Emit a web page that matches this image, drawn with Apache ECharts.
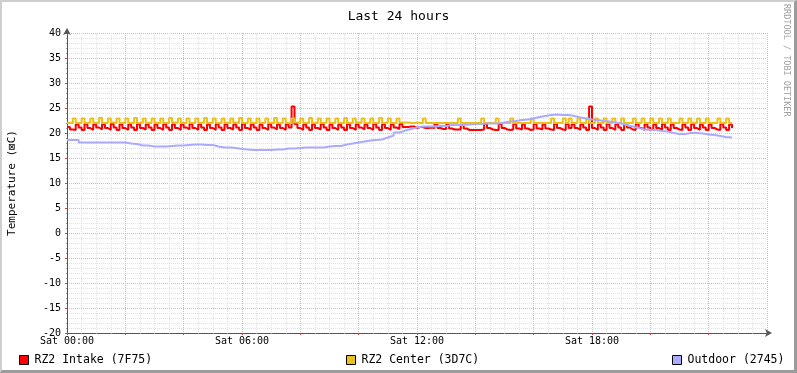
<!DOCTYPE html>
<html>
<head>
<meta charset="utf-8">
<script src="https://cdn.jsdelivr.net/npm/echarts@6/dist/echarts.min.js"></script>
<style>
html,body{margin:0;padding:0;background:#fff;}
#wrap{position:relative;width:797px;height:373px;}
#chart{position:absolute;left:0;top:0;width:797px;height:373px;}
#frame{position:absolute;left:0;top:0;width:797px;height:373px;box-sizing:border-box;
 border-top:2px solid #cfcfcf;border-left:2px solid #cfcfcf;border-right:3px solid #9c9c9c;border-bottom:3px solid #9c9c9c;pointer-events:none;}
</style>
</head>
<body>
<div id="wrap"><div id="chart"></div><div id="frame"></div></div>
<script>
// ---- data ----
const TITLE = 'Last 24 hours';
const Y_NAME = 'Temperature (\u22A0C)';
const WATERMARK = 'RRDTOOL / TOBI OETIKER';
const SERIES_NAMES = ['RZ2 Intake (7F75)', 'RZ2 Center (3D7C)', 'Outdoor (2745)'];
const X_TICK_MINUTES = [0, 360, 720, 1080];
const X_TICK_LABELS = ['Sat 00:00', 'Sat 06:00', 'Sat 12:00', 'Sat 18:00'];
const STEP_FAST = 6;   // minutes between intake/center samples
const STEP_SLOW = 12;  // minutes between outdoor samples

const intake = [
21.2,20.7,20.6,
21.7,21.1,20.6, 21.8,21.0,20.6, 21.7,21.1,20.7, 21.7,21.0,20.6, 21.8,21.1,20.6,
21.7,21.0,20.6, 21.7,21.1,20.6, 21.8,21.0,20.7, 21.7,21.1,20.6, 21.7,21.0,20.6,
21.8,21.1,20.6, 21.7,21.0,20.6, 21.7,21.1,20.7, 21.8,21.0,20.6, 21.7,21.1,20.6,
21.7,21.0,20.6, 21.8,21.1,20.6, 21.7,21.0,20.7, 21.7,21.1,20.6, 21.8,21.0,20.6,
21.7,21.1,20.6, 21.7,21.0,20.6, 21.8,21.1,20.7, 21.7,21.0,20.6, 21.7,21.1,25.3,
21.8,21.0,20.6, 21.7,21.1,20.6, 21.7,21.0,20.7, 21.8,21.1,20.6, 21.7,21.0,20.6,
21.7,21.1,20.6, 21.8,21.0,20.6, 21.7,21.1,20.7, 21.7,21.0,20.6, 21.8,21.1,20.6,
21.7,21.0,20.6, 21.7,21.1,20.8,
21.8,21.2,21.2,21.3,21.3,21.0,21.2,21.2,21.0,21.0,
21.1,21.0,21.8,21.0,20.8,20.8,21.7,20.9,20.7,20.7,
20.7,21.7,20.9,20.6,20.6,20.6,20.6,20.6,20.7,21.8,
21.0,20.7,20.6,20.6,21.8,21.0,20.7,20.6,20.7,21.8,
20.9,20.7,21.7,20.9,20.6,20.7,21.8,20.9,20.7,21.7,
20.9,20.7,20.6,21.8,21.0,20.7,20.6,21.8,
21.0,21.7,21.0,20.6,21.7,21.1,20.6,25.3,21.0,20.6,
21.7,21.1,20.6,21.8,21.0,20.6,21.7,21.1,20.6,21.7,
21.1,20.7,20.6,21.8,21.0,20.6,21.7,21.1,20.6,21.7,
21.0,20.6,21.8,21.1,20.6,21.7,21.0,20.7,20.6,21.7,
21.1,20.6,21.8,21.0,20.6,21.7,21.1,20.6,21.7,21.0,
20.7,20.6,21.8,21.1,20.6,21.7,21.0
];

const center = [
22.0,22.0,22.9, 22.0,22.0,22.9, 22.0,22.1,22.9, 22.0,22.0,23.0, 22.0,22.0,22.9,
22.1,22.0,22.9, 22.0,22.0,22.9, 22.0,22.0,23.0, 22.0,22.1,22.9, 22.0,22.0,22.9,
22.0,22.0,22.9, 22.0,22.0,23.0, 22.1,22.0,22.9, 22.0,22.0,22.9, 22.0,22.0,22.9,
22.0,22.1,23.0, 22.0,22.0,22.9, 22.0,22.0,22.9, 22.0,22.0,22.9, 22.1,22.0,23.0,
22.0,22.0,22.9, 22.0,22.0,22.9, 22.0,22.1,22.9, 22.0,22.0,23.0, 22.0,22.0,22.9,
22.0,22.0,22.9, 22.1,22.0,22.9, 22.0,22.0,23.0, 22.0,22.0,22.9, 22.0,22.1,22.9,
22.0,22.0,22.9, 22.0,22.0,23.0, 22.0,22.0,22.9, 22.1,22.0,22.9, 22.0,22.0,22.9,
22.0,22.0,23.0, 22.0,22.1,22.9, 22.0,22.0,22.9,
22.1,22.1,22.1,22.0,22.0,22.1,22.0,22.0,22.9,22.0,
22.0,22.0,22.0,22.0,22.0,22.0,22.0,22.0,22.0,22.0,
22.9,22.0,22.0,22.0,22.0,22.0,22.0,22.0,22.9,22.0,
22.0,22.0,22.0,22.9,22.0,22.0,22.0,22.0,22.9,22.0,
22.0,22.0,22.0,22.0,22.0,22.9,22.0,22.0,22.0,22.0,
22.0,22.0,22.9,22.0,22.0,22.0,22.9,22.0,
22.9,22.0,22.0,22.9,22.0,22.0,22.9,22.0,22.0,22.9,
22.0,22.0,22.9,22.0,22.0,22.9,22.0,22.0,22.9,22.0,
22.0,22.0,22.9,22.0,22.0,22.9,22.0,22.0,22.9,22.0,
22.0,22.9,22.0,22.0,22.9,22.0,22.0,22.0,22.9,22.0,
22.0,22.9,22.0,22.0,22.9,22.0,22.0,22.9,22.0,22.0,
22.0,22.9,22.0,22.0,22.9,22.0,22.0
];

const outdoor = [
18.6,18.6,18.1,18.1,18.1,18.1,18.1,18.1,18.1,18.1,
17.9,17.8,17.5,17.5,17.3,17.3,17.3,17.4,17.5,17.5,
17.6,17.7,17.7,17.6,17.6,17.3,17.1,17.1,17.0,16.8,
16.7,16.6,16.6,16.6,16.6,16.7,16.7,16.9,16.9,17.0,
17.1,17.1,17.1,17.1,17.3,17.4,17.4,17.7,17.9,18.1,
18.3,18.5,18.6,18.7,19.1,19.5,20.1,20.5,20.8,21.1,
21.3,21.3,21.3,21.4,21.4,21.6,21.6,21.6,21.7,21.8,
21.8,21.9,21.9,21.9,22.1,22.3,22.4,22.6,22.7,22.9,
23.2,23.4,23.6,23.7,23.6,23.6,23.4,23.1,22.9,22.7,
22.6,22.4,22.3,22.1,21.9,21.6,21.3,21.0,20.7,20.6,
20.6,20.4,20.3,20.0,19.8,19.8,20.0,20.0,19.9,19.7,
19.6,19.4,19.2,19.1,19.1
];

// ---- chart ----
const MONO = '"DejaVu Sans Mono", monospace';
const toPairs = (arr, step) => arr.map((v, i) => [i * step, v]);

const chart = echarts.init(document.getElementById('chart'), null, {renderer: 'canvas'});
const colors = ['#FF0000', '#E8C21A', '#AAAAFF'];

function legendAt(idx, left) {
  return {
    data: [SERIES_NAMES[idx]], left: left, top: 349, orient: 'horizontal',
    icon: 'rect', itemWidth: 9, itemHeight: 9, itemGap: 0,
    itemStyle: {borderColor: '#000', borderWidth: 1},
    textStyle: {fontFamily: MONO, fontSize: 11.5, color: '#000', padding: [0, 0, 0, 1]},
    selectedMode: false
  };
}

const majorGrid = {color: '#eab2b2', type: [1, 1], width: 1};
const minorGrid = {color: '#e2e2e2', type: [1, 1], width: 1};

chart.setOption({
  animation: false,
  backgroundColor: '#fff',
  title: {
    text: TITLE, left: 'center', top: 5,
    textStyle: {fontFamily: MONO, fontSize: 13, fontWeight: 'normal', color: '#000'}
  },
  legend: [legendAt(0, 14), legendAt(1, 341), legendAt(2, 667)],
  grid: {left: 67, right: 30, top: 33, bottom: 40, containLabel: false, outerBoundsMode: 'none'},
  xAxis: {
    type: 'value', min: 0, max: 1440, interval: 120,
    axisLine: {show: true, onZero: false, lineStyle: {color: '#555', width: 1}, symbol: ['none', 'arrow'], symbolSize: [6, 7], symbolOffset: [0, 5]},
    axisTick: {show: true, length: 2, lineStyle: {color: '#d04040'}},
    minorTick: {show: true, splitNumber: 4, length: 1, lineStyle: {color: '#999'}},
    axisLabel: {
      fontFamily: MONO, fontSize: 10, color: '#000', margin: 3,
      formatter: v => { const k = X_TICK_MINUTES.indexOf(v); return k >= 0 ? X_TICK_LABELS[k] : ''; }
    },
    splitLine: {show: true, lineStyle: majorGrid},
    minorSplitLine: {show: true, lineStyle: minorGrid}
  },
  yAxis: {
    type: 'value', min: -20, max: 40, interval: 5,
    name: Y_NAME, nameLocation: 'middle', nameGap: 49, nameRotate: 90,
    nameTextStyle: {fontFamily: MONO, fontSize: 11, color: '#000'},
    axisLine: {show: true, onZero: false, lineStyle: {color: '#555', width: 1}, symbol: ['none', 'arrow'], symbolSize: [6, 7], symbolOffset: [0, 5]},
    axisTick: {show: true, length: 2, lineStyle: {color: '#d04040'}},
    minorTick: {show: true, splitNumber: 5, length: 1, lineStyle: {color: '#999'}},
    axisLabel: {fontFamily: MONO, fontSize: 10, color: '#000', margin: 6},
    splitLine: {show: true, lineStyle: majorGrid},
    minorSplitLine: {show: true, lineStyle: minorGrid}
  },
  series: [
    {name: SERIES_NAMES[0], type: 'line', step: 'end', showSymbol: false, color: colors[0],
     lineStyle: {width: 2, color: colors[0]}, data: toPairs(intake, STEP_FAST)},
    {name: SERIES_NAMES[1], type: 'line', step: 'end', showSymbol: false, color: colors[1],
     lineStyle: {width: 2, color: colors[1]}, data: toPairs(center, STEP_FAST)},
    {name: SERIES_NAMES[2], type: 'line', step: 'end', showSymbol: false, color: colors[2],
     lineStyle: {width: 2, color: colors[2]}, data: toPairs(outdoor, STEP_SLOW)}
  ],
  graphic: [{
    type: 'text', left: 782, top: 4, rotation: -Math.PI / 2, originX: 0, originY: 0,
    style: {text: WATERMARK, fontFamily: MONO, fontSize: 8.5, fill: '#a0a0a0'}
  }]
});
</script>
</body>
</html>
